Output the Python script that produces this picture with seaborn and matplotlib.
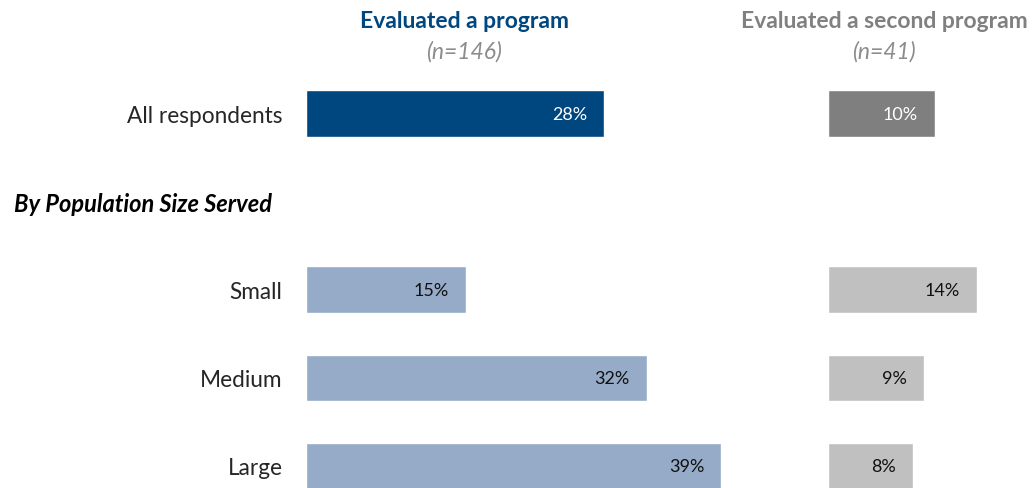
import matplotlib
matplotlib.use('Agg')
import matplotlib.pyplot as plt
import seaborn as sns
import pandas as pd

# data
rows = ['All respondents', 'By Population Size Served', 'Small', 'Medium', 'Large']
groups = ['All respondents', 'Small', 'Medium', 'Large']
first_program = [28, 15, 32, 39]
second_program = [10, 14, 9, 8]
first_title = 'Evaluated a program'
first_n = '(n=146)'
second_title = 'Evaluated a second program'
second_n = '(n=41)'

pal_first = dict(zip(groups, ['#00467F', '#95ABC7', '#95ABC7', '#95ABC7']))
pal_second = dict(zip(groups, ['#7F7F7F', '#C0C0C0', '#C0C0C0', '#C0C0C0']))
label_colors = ['white', '#111111', '#111111', '#111111']

sns.set_style('white')
plt.rcParams['font.family'] = ['Lato', 'DejaVu Sans']

W, H = 1036, 489
PX = 10.65  # pixels per percentage point
fig = plt.figure(figsize=(W / 100, H / 100), dpi=100)

ax1 = fig.add_axes([306 / W, 0, 447 / W, 418.5 / H])
ax2 = fig.add_axes([828 / W, 0, 208 / W, 418.5 / H])

df1 = pd.DataFrame({'group': groups, 'value': first_program})
df2 = pd.DataFrame({'group': groups, 'value': second_program})

for ax, df, pal in [(ax1, df1, pal_first), (ax2, df2, pal_second)]:
    sns.barplot(data=df, x='value', y='group', hue='group', order=rows,
                palette=pal, legend=False, width=0.53, saturation=1, ax=ax)
    ax.set_ylim(4.25, -0.5)
    for g, v, c in zip(df['group'], df['value'], label_colors):
        ax.text(v - 1.6, rows.index(g), f'{v}%', ha='right', va='center',
                color=c, fontsize=13)
    sns.despine(ax=ax, left=True, bottom=True)
    ax.set_xticks([])
    ax.set_xlabel('')
    ax.set_ylabel('')

ax1.set_xlim(0, 447 / PX)
ax2.set_xlim(0, 208 / PX)

ax1.set_yticks(range(len(rows)))
ax1.set_yticklabels([r if r in groups else '' for r in rows], fontsize=16.3)
ax1.tick_params(axis='y', length=0, pad=17)
ax2.set_yticks([])

# column headers
fig.text(465 / W, 1 - 22 / H, first_title, ha='center', va='center',
         fontsize=16.5, fontweight='bold', color='#00467F')
fig.text(464 / W, 1 - 52 / H, first_n, ha='center', va='center',
         fontsize=16.5, style='italic', color='#8C8C8C')
fig.text(884 / W, 1 - 22 / H, second_title, ha='center', va='center',
         fontsize=16.5, fontweight='bold', color='#808080')
fig.text(884 / W, 1 - 52 / H, second_n, ha='center', va='center',
         fontsize=16.5, style='italic', color='#8C8C8C')

# section header
fig.text(14 / W, 1 - 204 / H, 'By Population Size Served', ha='left', va='center',
         fontsize=17, fontweight='bold', style='italic', color='black')

fig.savefig('out.png', dpi=100)
